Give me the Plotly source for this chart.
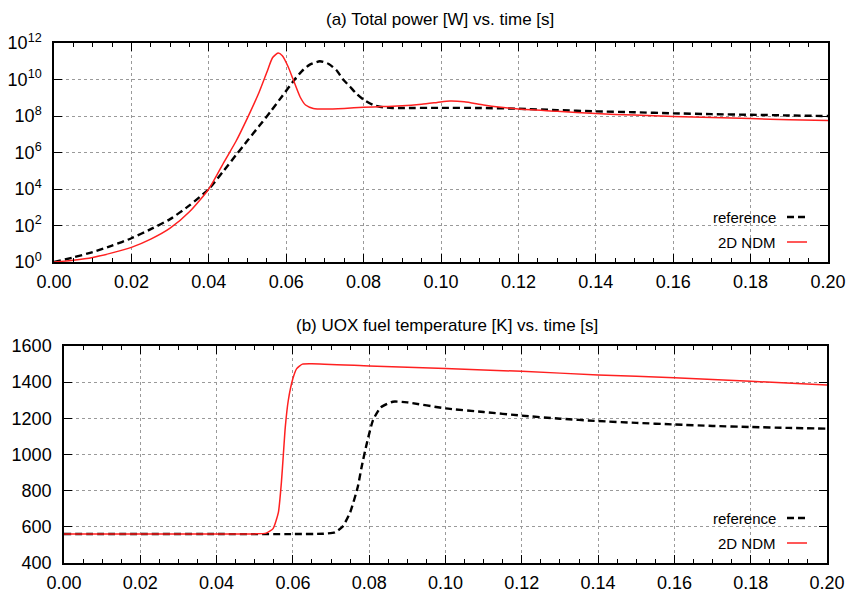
import plotly.graph_objects as go

# ---------------- data ----------------
# (a) total power [W] vs time [s]
time_pow_ref = [0, 0.005, 0.01, 0.015, 0.02, 0.025, 0.03, 0.035, 0.04, 0.044, 0.047, 0.05, 0.053,
                0.056, 0.059, 0.062, 0.064, 0.066, 0.0687, 0.071, 0.073, 0.0747, 0.0765, 0.078,
                0.080, 0.0825, 0.085, 0.0875, 0.09, 0.1, 0.11, 0.12, 0.13, 0.14, 0.15, 0.16, 0.17,
                0.18, 0.19, 0.2]
power_ref = [1.0, 1.78, 3.5, 7.9, 20, 63, 224, 1.26e3, 1.0e4, 1.1e5, 7.1e5, 4.5e6, 2.8e7,
             1.8e8, 1.26e9, 8.9e9, 2.8e10, 6.3e10, 1.0e11, 7.1e10, 3.2e10, 1.0e10, 4.0e9, 1.8e9,
             7.9e8, 4.0e8, 3.0e8, 2.75e8, 2.75e8, 2.8e8, 2.75e8, 2.5e8, 2.1e8, 1.8e8, 1.6e8,
             1.4e8, 1.26e8, 1.17e8, 1.07e8, 1.0e8]

time_pow_ndm = [0, 0.005, 0.01, 0.015, 0.02, 0.025, 0.03, 0.035, 0.04, 0.044, 0.047, 0.05,
                0.053, 0.055, 0.0565, 0.0579, 0.059, 0.0605, 0.0618, 0.0636, 0.065, 0.067, 0.07,
                0.075, 0.08, 0.085, 0.09, 0.095, 0.099, 0.1023, 0.106, 0.111, 0.1155, 0.12,
                0.13, 0.14, 0.15, 0.16, 0.17, 0.18, 0.19, 0.2]
power_ndm = [1.0, 1.26, 1.78, 3.16, 6.3, 17.8, 71, 562, 1.0e4, 3.2e5, 4.0e6, 7.9e7,
             2.0e9, 2.5e10, 1.6e11, 2.8e11, 2.0e11, 5.0e10, 1.0e10, 1.1e9, 4.0e8, 2.6e8, 2.4e8,
             2.6e8, 3.0e8, 3.3e8, 3.6e8, 4.4e8, 5.5e8, 6.6e8, 6.0e8, 4.0e8, 3.0e8, 2.4e8,
             1.8e8, 1.35e8, 1.12e8, 9.5e7, 8.3e7, 7.2e7, 6.3e7, 5.6e7]

# (b) UOX fuel temperature [K] vs time [s]
time_temp_ref = [0, 0.02, 0.04, 0.06, 0.068, 0.071, 0.073, 0.075, 0.077, 0.078, 0.0794, 0.081,
                 0.083, 0.0862, 0.09, 0.1, 0.11, 0.12, 0.13, 0.14, 0.15, 0.16, 0.17, 0.18, 0.19, 0.2]
temp_ref = [560, 560, 560, 560, 562, 570, 600, 680, 820, 930, 1064, 1190,
            1260, 1292, 1288, 1255, 1235, 1215, 1198, 1185, 1175, 1166, 1158, 1152, 1147, 1143]

time_temp_ndm = [0, 0.02, 0.04, 0.05, 0.053, 0.0548, 0.0562, 0.057, 0.0575, 0.058, 0.0588,
                 0.06, 0.061, 0.0625, 0.065, 0.08, 0.1, 0.12, 0.14, 0.16, 0.18, 0.2]
temp_ndm = [560, 560, 560, 561, 565, 590, 680, 850, 1000, 1150, 1300,
            1420, 1475, 1500, 1502, 1490, 1475, 1460, 1440, 1425, 1405, 1385]

x_ticks = [0.00, 0.02, 0.04, 0.06, 0.08, 0.10, 0.12, 0.14, 0.16, 0.18, 0.20]
pow_tick_vals = [1e0, 1e2, 1e4, 1e6, 1e8, 1e10, 1e12]
pow_tick_text = ["10<sup>0</sup>", "10<sup>2</sup>", "10<sup>4</sup>", "10<sup>6</sup>",
                 "10<sup>8</sup>", "10<sup>10</sup>", "10<sup>12</sup>"]
temp_ticks = [400, 600, 800, 1000, 1200, 1400, 1600]

title_a = "(a) Total power [W] vs. time [s]"
title_b = "(b) UOX fuel temperature [K] vs. time [s]"
legend_names = ["reference", "2D NDM"]

# ---------------- figure ----------------
RED = "#ff2020"
BLACK = "#000000"
dash_ref = "7px,4px"
FONT = "Liberation Sans, Arial, Helvetica, sans-serif"

fig = go.Figure()
fig.add_trace(go.Scatter(x=time_pow_ref, y=power_ref, mode="lines", xaxis="x", yaxis="y",
                         line=dict(color=BLACK, width=2.4, dash=dash_ref, shape="spline", smoothing=0.6),
                         name=legend_names[0]))
fig.add_trace(go.Scatter(x=time_pow_ndm, y=power_ndm, mode="lines", xaxis="x", yaxis="y",
                         line=dict(color=RED, width=1.5, shape="spline", smoothing=0.6),
                         name=legend_names[1]))
fig.add_trace(go.Scatter(x=time_temp_ref, y=temp_ref, mode="lines", xaxis="x2", yaxis="y2",
                         line=dict(color=BLACK, width=2.4, dash=dash_ref, shape="spline", smoothing=0.5),
                         name=legend_names[0]))
fig.add_trace(go.Scatter(x=time_temp_ndm, y=temp_ndm, mode="lines", xaxis="x2", yaxis="y2",
                         line=dict(color=RED, width=1.5, shape="spline", smoothing=0.5),
                         name=legend_names[1]))

W, H = 847, 593
L, R, T, B = 54, 19, 43, 30
pw, ph = W - L - R, H - T - B


def px_x(x):
    return (x - L) / pw


def px_y(y):
    return (H - B - y) / ph


common_x = dict(range=[0, 0.2], tickvals=x_ticks, tickformat=".2f", ticks="inside", ticklen=8,
                tickwidth=1.2, tickcolor=BLACK, showline=True, linecolor=BLACK, linewidth=1.5,
                mirror="ticks", showgrid=True, gridcolor="#9a9a9a", griddash="dot", gridwidth=1,
                zeroline=False, tickfont=dict(size=18, color=BLACK, family=FONT),
                ticklabelstandoff=3,
                minor=dict(dtick=0.005, tick0=0, ticks="inside", ticklen=4, tickcolor=BLACK,
                           showgrid=False), automargin=False)
common_y = dict(ticks="inside", ticklen=8, tickwidth=1.2, tickcolor=BLACK, showline=True,
                linecolor=BLACK, linewidth=1.5, mirror="ticks", showgrid=True, gridcolor="#9a9a9a",
                griddash="dot", gridwidth=1, zeroline=False, ticklabelstandoff=7,
                tickfont=dict(size=18, color=BLACK, family=FONT), automargin=False)

fig.update_layout(
    width=W, height=H,
    margin=dict(l=L, r=R, t=T, b=B, pad=0),
    paper_bgcolor="white", plot_bgcolor="white",
    showlegend=False,
    font=dict(family=FONT, color=BLACK),
    xaxis=dict(domain=[0, 1], anchor="y", **common_x),
    yaxis=dict(domain=[px_y(262), 1], anchor="x", type="log", range=[0, 12],
               tickvals=pow_tick_vals, ticktext=pow_tick_text, **common_y),
    xaxis2=dict(domain=[px_x(64), px_x(827)], anchor="y2", **common_x),
    yaxis2=dict(domain=[0, px_y(346)], anchor="x2", range=[400, 1600], tickvals=temp_ticks,
                **common_y),
)

annotations = [
    dict(text=title_a, x=px_x(440), y=px_y(20), xref="paper", yref="paper",
         showarrow=False, font=dict(size=17, family=FONT, color=BLACK), xanchor="center", yanchor="middle"),
    dict(text=title_b, x=px_x(447), y=px_y(325), xref="paper", yref="paper",
         showarrow=False, font=dict(size=17, family=FONT, color=BLACK), xanchor="center", yanchor="middle"),
]
shapes = []
legend_rows = [(217, 242), (518, 543)]
for (y_ref, y_ndm) in legend_rows:
    for name, yy, col, dash, wd in [(legend_names[0], y_ref, BLACK, dash_ref, 2.4),
                                    (legend_names[1], y_ndm, RED, "solid", 1.5)]:
        annotations.append(dict(text=name, x=px_x(778), y=px_y(yy), xref="paper", yref="paper",
                                showarrow=False, xanchor="right", yanchor="middle",
                                font=dict(size=15, family=FONT, color=BLACK)))
        shapes.append(dict(type="line", xref="paper", yref="paper", x0=px_x(787), x1=px_x(807),
                           y0=px_y(yy), y1=px_y(yy), line=dict(color=col, width=wd, dash=dash)))

fig.update_layout(annotations=annotations, shapes=shapes)
fig.write_html("out.html", config={"displayModeBar": False},
               post_script="document.body.style.margin='0';document.body.style.overflow='hidden';")
